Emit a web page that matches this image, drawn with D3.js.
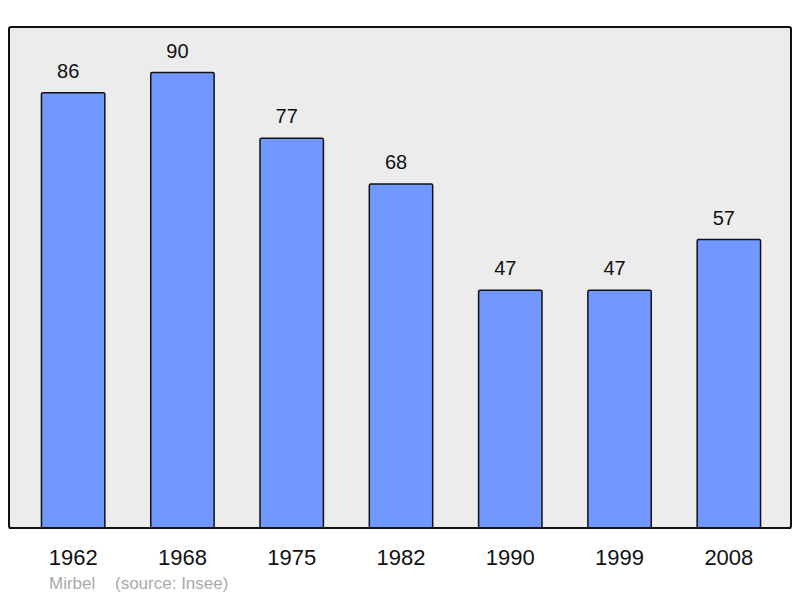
<!DOCTYPE html>
<html>
<head>
<meta charset="utf-8">
<script src="https://cdn.jsdelivr.net/npm/d3@7"></script>
<style>
  body { margin: 0; background: #fff; }
  text { font-family: "Liberation Sans", Arial, sans-serif; }
</style>
</head>
<body>
<script>
const years = ["1962", "1968", "1975", "1982", "1990", "1999", "2008"];
const population = [86, 90, 77, 68, 47, 47, 57];
const commune = "Mirbel";
const source = "(source: Insee)";

const width = 800, height = 598;
const frame = { left: 9, top: 27, right: 791, bottom: 528 };

const svg = d3.select("body").append("svg")
    .attr("width", width)
    .attr("height", height);

svg.append("rect")
    .attr("x", frame.left)
    .attr("y", frame.top)
    .attr("width", frame.right - frame.left)
    .attr("height", frame.bottom - frame.top)
    .attr("rx", 2)
    .attr("fill", "#ececec")
    .attr("stroke", "#111")
    .attr("stroke-width", 2);

const x = d3.scaleBand()
    .domain(years)
    .range([18.5, 783.5])
    .paddingInner(0.42)
    .paddingOuter(0.21);

const y = d3.scaleLinear()
    .domain([0, d3.max(population) * 1.1])
    .range([frame.bottom, frame.top]);

const data = years.map((yr, i) => ({ year: yr, value: population[i] }));

svg.selectAll(".bar")
    .data(data)
    .enter().append("rect")
    .attr("class", "bar")
    .attr("x", d => x(d.year))
    .attr("y", d => y(d.value))
    .attr("width", x.bandwidth())
    .attr("height", d => frame.bottom - y(d.value))
    .attr("rx", 1.5)
    .attr("fill", "#7098ff")
    .attr("stroke", "#111")
    .attr("stroke-width", 1.5);

// value labels sit a little left of the bar centre in the original
svg.selectAll(".val")
    .data(data)
    .enter().append("text")
    .attr("class", "val")
    .attr("x", d => x(d.year) + x.bandwidth() / 2 - 5)
    .attr("y", d => y(d.value) - 15)
    .attr("text-anchor", "middle")
    .attr("font-size", 20)
    .attr("fill", "#111")
    .text(d => d.value);

// redraw frame bottom line over the bars
svg.append("line")
    .attr("x1", frame.left).attr("x2", frame.right)
    .attr("y1", frame.bottom).attr("y2", frame.bottom)
    .attr("stroke", "#111").attr("stroke-width", 2);

const axis = svg.append("g")
    .attr("transform", `translate(0,${frame.bottom})`)
    .call(d3.axisBottom(x).tickSize(0).tickPadding(21));
axis.select(".domain").remove();
axis.selectAll("text")
    .attr("font-size", 22)
    .attr("fill", "#111")
    .style("font-family", "'Liberation Sans', Arial, sans-serif");

svg.append("text")
    .attr("x", 49)
    .attr("y", 589)
    .attr("font-size", 17)
    .attr("fill", "#aaa")
    .text(commune);

svg.append("text")
    .attr("x", 115)
    .attr("y", 589)
    .attr("font-size", 17)
    .attr("fill", "#aaa")
    .text(source);
</script>
</body>
</html>
